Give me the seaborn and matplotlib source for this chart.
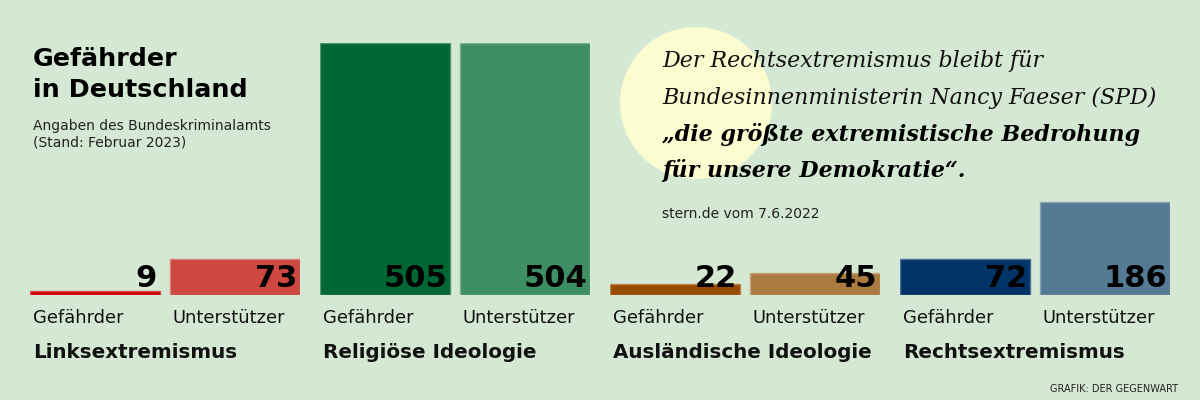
import pandas as pd
import matplotlib.pyplot as plt
import matplotlib.colors as mcolors
from matplotlib.patches import Circle
import seaborn as sns

# data
groups = ["Linksextremismus", "Religiöse Ideologie", "Ausländische Ideologie", "Rechtsextremismus"]
kinds = ["Gefährder", "Unterstützer"]
gefaehrder = [9, 505, 22, 72]
unterstuetzer = [73, 504, 45, 186]
colors = [
    ["#cc0000", "#cf4741"],
    ["#006633", "#3e8f63"],
    ["#994c00", "#aa7a40"],
    ["#003366", "#557a93"],
]

df = pd.DataFrame({
    "group": [g for g in groups for _ in kinds],
    "kind": kinds * len(groups),
    "value": [v for pair in zip(gefaehrder, unterstuetzer) for v in pair],
})

bg = "#d5e8d4"
sns.set_theme(style="white", rc={"figure.facecolor": bg, "axes.facecolor": "none",
                                 "text.color": "#000000"})
plt.rcParams["font.family"] = ["DejaVu Sans"]

fig = plt.figure(figsize=(12, 4), dpi=100)

# overlay for header texts / decoration, pixel coordinates
deco = fig.add_axes([0, 0, 1, 1], zorder=-1)
deco.set_xlim(0, 1200)
deco.set_ylim(400, 0)
deco.axis("off")
deco.add_patch(Circle((696, 103), 76, color="#fbfccf", lw=0))

deco.text(33, 66, "Gefährder", fontsize=18.3, fontweight="bold", va="baseline")
deco.text(33, 97, "in Deutschland", fontsize=18.3, fontweight="bold", va="baseline")
deco.text(33, 130, "Angaben des Bundeskriminalamts", fontsize=10, color="#222222", va="baseline")
deco.text(33, 147, "(Stand: Februar 2023)", fontsize=10, color="#222222", va="baseline")

serif = ["DejaVu Serif"]
qs = 15.9
deco.text(662, 67, "Der Rechtsextremismus bleibt für", fontsize=qs, style="italic",
          family=serif, va="baseline", color="#111111")
deco.text(662, 104, "Bundesinnenministerin Nancy Faeser (SPD)", fontsize=qs, style="italic",
          family=serif, va="baseline", color="#111111")
deco.text(662, 141, "„die größte extremistische Bedrohung", fontsize=qs, style="italic",
          fontweight="bold", family=serif, va="baseline")
deco.text(662, 177, "für unsere Demokratie“.", fontsize=qs, style="italic",
          fontweight="bold", family=serif, va="baseline")
deco.text(662, 218, "stern.de vom 7.6.2022", fontsize=10, color="#222222", va="baseline")
deco.text(1178, 392, "GRAFIK: DER GEGENWART", fontsize=7, color="#222222", ha="right",
          va="baseline")

w = 130 / 140
for i, g in enumerate(groups):
    ax = fig.add_axes([(30 + 290 * i) / 1200, 105 / 400, 270 / 1200, 252.5 / 400])
    sub = df[df["group"] == g]
    sns.barplot(data=sub, x="kind", y="value", hue="kind", palette=colors[i],
                width=w, saturation=1, legend=False, ax=ax)
    for p, c in zip(ax.patches, colors[i]):
        rgb = mcolors.to_rgb(c)
        p.set_edgecolor([x + (1 - x) * 0.3 for x in rgb])
        p.set_linewidth(1)
    ax.set_xlim(-w / 2, 1 + w / 2)
    ax.set_ylim(0, 505)
    ax.axis("off")

    for j, v in enumerate(sub["value"]):
        ax.annotate(f"{v}", xy=(j + w / 2, 0), xycoords=("data", "axes fraction"),
                    xytext=(-3, 8), textcoords="offset pixels", ha="right",
                    va="baseline", fontsize=22, fontweight="bold", color="black")
        ax.annotate(kinds[j], xy=(j - w / 2, 0), xycoords=("data", "axes fraction"),
                    xytext=(3, -28), textcoords="offset pixels", ha="left",
                    va="baseline", fontsize=12.9, color="#111111")
    ax.annotate(g, xy=(-w / 2, 0), xycoords=("data", "axes fraction"),
                xytext=(3, -63), textcoords="offset pixels", ha="left",
                va="baseline", fontsize=14.3, fontweight="bold", color="#111111")

fig.savefig("out.png", dpi=100, facecolor=bg)
